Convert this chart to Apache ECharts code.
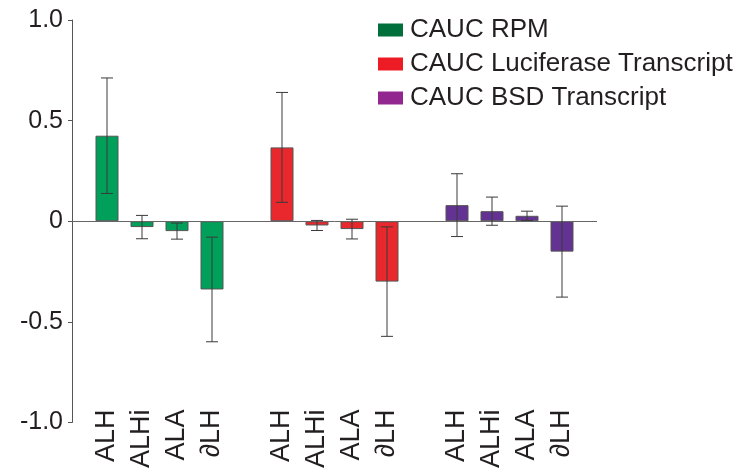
<!DOCTYPE html>
<html>
<head>
<meta charset="utf-8">
<script src="https://cdn.jsdelivr.net/npm/echarts@6/dist/echarts.min.js"></script>
<style>html,body{margin:0;padding:0;background:#fff}#c{width:744px;height:471px}</style>
</head>
<body>
<div id="c"></div>
<script>
// ---- data ----
const groups = ['ALH', 'ALHi', 'ALA', '∂LH'];
const seriesNames = ['CAUC RPM', 'CAUC Luciferase Transcript', 'CAUC BSD Transcript'];
const rpmMean = [0.425, -0.029, -0.049, -0.339];
const rpmErr  = [0.287, 0.058, 0.040, 0.260];
const lucMean = [0.367, -0.021, -0.039, -0.300];
const lucErr  = [0.273, 0.025, 0.049, 0.272];
const bsdMean = [0.080, 0.050, 0.027, -0.151];
const bsdErr  = [0.156, 0.070, 0.023, 0.226];
const yTicks = ['-1.0', '-0.5', '0', '0.5', '1.0'];

// ---- build categories with spacer slots ----
const categories = [''].concat(groups, [''], groups, [''], groups, ['']);
const offsets = [1, 6, 11];
function place(vals, off) {
  const arr = categories.map(() => '-');
  vals.forEach((v, i) => { arr[off + i] = v; });
  return arr;
}
function errData(means, errs, off) {
  return means.map((m, i) => [off + i, m - errs[i], m + errs[i]]);
}
const barColors = ['#00a05a', '#e8282d', '#633292'];
const legendColors = ['#006f3c', '#ed1c24', '#92278f'];
const means = [rpmMean, lucMean, bsdMean];
const errs = [rpmErr, lucErr, bsdErr];

const series = [];
means.forEach((m, k) => {
  const s = {
    name: seriesNames[k],
    type: 'bar',
    data: place(m, offsets[k]),
    barWidth: 23,
    barGap: '-100%',
    itemStyle: { color: barColors[k], borderColor: '#555', borderWidth: 1 },
    z: 2
  };
  if (k === 0) {
    s.markLine = {
      silent: true, symbol: 'none', label: { show: false },
      lineStyle: { color: '#666', width: 1, type: 'solid' },
      data: [{ yAxis: 0 }]
    };
  }
  series.push(s);
});
means.forEach((m, k) => {
  series.push({
    type: 'custom',
    data: errData(m, errs[k], offsets[k]),
    z: 5,
    renderItem: function (params, api) {
      const x = api.value(0);
      const lo = api.coord([x, api.value(1)]);
      const hi = api.coord([x, api.value(2)]);
      const hw = 6;
      const st = { stroke: '#3a3a3a', lineWidth: 1 };
      return {
        type: 'group',
        children: [
          { type: 'line', shape: { x1: lo[0], y1: lo[1], x2: hi[0], y2: hi[1] }, style: st },
          { type: 'line', shape: { x1: lo[0] - hw, y1: lo[1], x2: lo[0] + hw, y2: lo[1] }, style: st },
          { type: 'line', shape: { x1: hi[0] - hw, y1: hi[1], x2: hi[0] + hw, y2: hi[1] }, style: st }
        ]
      };
    }
  });
});

const chart = echarts.init(document.getElementById('c'), null, { renderer: 'canvas' });
chart.setOption({
  animation: false,
  backgroundColor: '#fff',
  textStyle: { fontFamily: 'Liberation Sans' },
  grid: { left: 72, right: 147, top: 20, bottom: 47 },
  legend: {
    orient: 'vertical',
    left: 373, top: 12,
    itemWidth: 25, itemHeight: 13, itemGap: 8,
    icon: 'rect',
    textStyle: { fontSize: 26, color: '#231f20', fontFamily: 'Liberation Sans', lineHeight: 26, padding: [0, 0, 0, 2] },
    data: seriesNames.map((n, k) => ({ name: n, itemStyle: { color: legendColors[k], borderWidth: 0 } }))
  },
  xAxis: {
    type: 'category',
    data: categories,
    boundaryGap: false,
    axisLine: { show: false },
    axisTick: { show: false },
    axisLabel: {
      interval: 0, rotate: 90, margin: -13,
      fontSize: 27, color: '#231f20', fontFamily: 'Liberation Sans'
    }
  },
  yAxis: {
    type: 'value',
    min: -1, max: 1, interval: 0.5,
    splitLine: { show: false },
    axisLine: { show: true, lineStyle: { color: '#555', width: 1 } },
    axisTick: { show: true, length: 4, lineStyle: { color: '#555' } },
    axisLabel: {
      fontSize: 25, color: '#231f20', margin: 9, fontFamily: 'Liberation Sans',
      formatter: function (v) { return yTicks[Math.round((v + 1) / 0.5)]; }
    }
  },
  series: series
});
</script>
</body>
</html>
